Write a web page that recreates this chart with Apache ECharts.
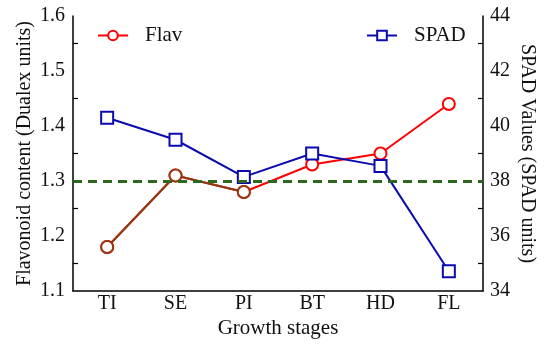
<!DOCTYPE html>
<html><head><meta charset="utf-8">
<script src="https://cdn.jsdelivr.net/npm/echarts@6/dist/echarts.min.js"></script>
<style>html,body{margin:0;padding:0;background:#fff}#c{width:550px;height:349px}</style>
</head><body><div id="c"></div>
<script>
const categories = ['TI','SE','PI','BT','HD','FL'];
const flav = [1.18, 1.31, 1.28, 1.33, 1.35, 1.44];
const spad = [40.3, 39.5, 38.15, 39.0, 38.55, 34.72];
const refLine = 1.3;
const flavEarly = flav.map((v,i)=> i<=2 ? v : null);

const F = 'Liberation Serif, Times New Roman, serif';
const chart = echarts.init(document.getElementById('c'), null, {renderer:'canvas'});
const axisCommon = {
  axisLine:{show:true,lineStyle:{color:'#000',width:1.5}},
  axisTick:{inside:true,length:5,lineStyle:{color:'#000',width:1.2}},
  minorTick:{show:true,splitNumber:2,length:5,lineStyle:{color:'#000',width:1.2}},
  splitLine:{show:false},
  axisLabel:{color:'#111',fontFamily:F,fontSize:20},
  nameTextStyle:{color:'#111',fontFamily:F,fontSize:20},
  nameLocation:'middle',
  nameMoveOverlap:false
};
chart.setOption({
  animation:false,
  grid:{left:73,right:67,top:16,bottom:58},
  legend:[
    {data:['Flav'],left:92,top:20,itemWidth:30,itemHeight:12,textStyle:{fontFamily:F,fontSize:21,color:'#111',padding:[0,0,0,12]}},
    {data:['SPAD'],left:361,top:20,itemWidth:30,itemHeight:12,textStyle:{fontFamily:F,fontSize:21,color:'#111',padding:[0,0,0,12]}}
  ],
  xAxis:{type:'category',data:categories,boundaryGap:true,name:'Growth stages',nameGap:27,
    axisLine:{show:true,lineStyle:{color:'#000',width:1.5}},
    axisTick:{inside:true,alignWithLabel:true,length:8,lineStyle:{color:'#000',width:1.2}},
    axisLabel:{color:'#111',fontFamily:F,fontSize:20,margin:3},
    nameTextStyle:{color:'#111',fontFamily:F,fontSize:21},nameLocation:'middle',nameMoveOverlap:false},
  yAxis:[
    Object.assign({},axisCommon,{type:'value',min:1.1,max:1.6,interval:0.1,position:'left',
      name:'Flavonoid content (Dualex units)',nameGap:38,
      axisLabel:Object.assign({},axisCommon.axisLabel,{margin:8,formatter:v=>v.toFixed(1)})}),
    Object.assign({},axisCommon,{type:'value',min:34,max:44,interval:2,position:'right',
      name:'SPAD Values (SPAD units)',nameGap:34,nameRotate:-90,
      axisLabel:Object.assign({},axisCommon.axisLabel,{margin:7})})
  ],
  series:[
    {name:'Flav',type:'line',yAxisIndex:0,data:flav,symbol:'emptyCircle',symbolSize:12,
      color:'#ff0000',lineStyle:{width:2,color:'#ff0000'},itemStyle:{color:'#ff0000',borderWidth:2},z:3,
      markLine:{silent:true,symbol:'none',label:{show:false},
        lineStyle:{color:'#2b6a1c',width:3,type:[9,6]},data:[{yAxis:refLine}]}},
    {name:'FlavEarly',type:'line',yAxisIndex:0,data:flavEarly,symbol:'emptyCircle',symbolSize:12,
      lineStyle:{width:2,color:'#8b3c14'},itemStyle:{color:'#9a3412',borderWidth:2},z:4},
    {name:'SPAD',type:'line',yAxisIndex:1,data:spad,symbol:'rect',symbolSize:12,
      color:'#0a0ab0',lineStyle:{width:2,color:'#0a0ab0'},itemStyle:{color:'#fff',borderColor:'#0a0ab0',borderWidth:2},z:3}
  ]
});
</script></body></html>
